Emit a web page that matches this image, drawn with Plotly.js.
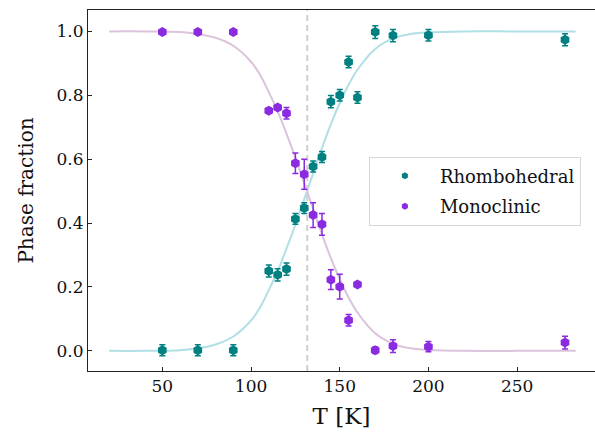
<!DOCTYPE html>
<html>
<head>
<meta charset="utf-8">
<script src="https://cdn.plot.ly/plotly-3.0.1.min.js"></script>
<style>
  html, body { margin: 0; padding: 0; background: #ffffff; }
  #chart { width: 595px; height: 439px; }
</style>
</head>
<body>
<div id="chart"></div>
<script>
// Measured temperatures (K)
const temperature = [50, 70, 90, 110, 115, 120, 125, 130, 135, 140, 145, 150, 155, 160, 170, 180, 200, 277];

// Phase fractions and their uncertainties
const rhomboFraction = [0.002, 0.002, 0.002, 0.250, 0.238, 0.256, 0.413, 0.447, 0.577, 0.607, 0.780, 0.800, 0.904, 0.793, 0.998, 0.987, 0.988, 0.974];
const rhomboError    = [0.017, 0.017, 0.017, 0.019, 0.019, 0.019, 0.017, 0.017, 0.017, 0.017, 0.019, 0.018, 0.018, 0.018, 0.020, 0.019, 0.018, 0.019];
const monoFraction   = [0.998, 0.998, 0.998, 0.752, 0.762, 0.744, 0.587, 0.553, 0.425, 0.396, 0.223, 0.201, 0.096, 0.208, 0.002, 0.015, 0.013, 0.026];
const monoError      = [0.004, 0.004, 0.004, 0.008, 0.008, 0.018, 0.032, 0.047, 0.039, 0.034, 0.031, 0.039, 0.018, 0.006, 0.010, 0.020, 0.016, 0.020];

// Fitted transition curves
const fitT      = [20, 40, 60, 70, 80, 90, 100, 105, 110, 115, 120, 125, 130, 135, 140, 145, 150, 155, 160, 170, 180, 190, 200, 220, 250, 283];
const fitRhombo = [0.000, 0.000, 0.002, 0.008, 0.020, 0.045, 0.095, 0.135, 0.190, 0.250, 0.320, 0.395, 0.475, 0.555, 0.635, 0.710, 0.775, 0.833, 0.880, 0.945, 0.978, 0.992, 0.997, 1.000, 1.000, 1.000];
const fitMono   = [1.000, 1.000, 0.998, 0.992, 0.980, 0.955, 0.905, 0.865, 0.810, 0.750, 0.680, 0.605, 0.525, 0.445, 0.365, 0.290, 0.225, 0.167, 0.120, 0.055, 0.022, 0.008, 0.003, 0.000, 0.000, 0.000];

// Transition temperature (dashed marker)
const transitionT = [131.7];

const teal = '#008080';
const violet = '#8a2be2';
const serif = 'DejaVu Serif, Liberation Serif, serif';

const traces = [
  { x: fitT, y: fitRhombo, mode: 'lines', line: { color: '#b0dfe5', width: 2, shape: 'spline' }, showlegend: false, hoverinfo: 'skip' },
  { x: fitT, y: fitMono, mode: 'lines', line: { color: '#dcc3dc', width: 2, shape: 'spline' }, showlegend: false, hoverinfo: 'skip' },
  {
    x: temperature, y: rhomboFraction, mode: 'markers', showlegend: false,
    marker: { symbol: 'hexagon', size: 10, color: teal },
    error_y: { type: 'data', array: rhomboError, visible: true, color: teal, thickness: 1.5, width: 3 }
  },
  {
    x: temperature, y: monoFraction, mode: 'markers', showlegend: false,
    marker: { symbol: 'hexagon', size: 10, color: violet },
    error_y: { type: 'data', array: monoError, visible: true, color: violet, thickness: 1.5, width: 3 }
  },
  // legend entries
  { x: [null], y: [null], mode: 'markers', name: 'Rhombohedral', legendgroup: 'r', marker: { symbol: 'hexagon', size: 7, color: teal } },
  { x: [null], y: [null], mode: 'markers', name: 'Monoclinic', legendgroup: 'm', marker: { symbol: 'hexagon', size: 7, color: violet } }
];

const axisCommon = {
  showgrid: false, zeroline: false,
  showline: true, mirror: true, linecolor: '#222222', linewidth: 1,
  ticks: 'inside', ticklen: 4, tickwidth: 1, tickcolor: '#222222',
  tickfont: { family: serif, size: 17, color: '#111111' }
};

const layout = {
  width: 595, height: 439,
  margin: { l: 88, r: 0, t: 10, b: 68 },
  paper_bgcolor: '#ffffff', plot_bgcolor: '#ffffff',
  font: { family: serif, color: '#111111' },
  xaxis: Object.assign({}, axisCommon, {
    range: [8.1, 293.9], tickvals: [50, 100, 150, 200, 250],
    title: { text: 'T [K]', font: { family: serif, size: 23 }, standoff: 12 }
  }),
  yaxis: Object.assign({}, axisCommon, {
    range: [-0.063, 1.067], tickvals: [0, 0.2, 0.4, 0.6, 0.8, 1.0], tickformat: '.1f',
    title: { text: 'Phase fraction', font: { family: serif, size: 20 }, standoff: 17 }
  }),
  shapes: [{
    type: 'line', xref: 'x', yref: 'paper', x0: transitionT[0], x1: transitionT[0], y0: 0, y1: 1,
    line: { color: '#cfcfcf', width: 2, dash: '6px,4px' }, layer: 'below'
  }],
  legend: {
    x: 0.554, y: 0.594, xanchor: 'left', yanchor: 'top',
    bgcolor: 'rgba(255,255,255,0.85)', bordercolor: '#d6d6d6', borderwidth: 1,
    font: { family: serif, size: 18, color: '#111111' },
    itemwidth: 60, tracegroupgap: 4
  },
  showlegend: true
};

Plotly.newPlot('chart', traces, layout, { displayModeBar: false, staticPlot: true });
</script>
</body>
</html>
